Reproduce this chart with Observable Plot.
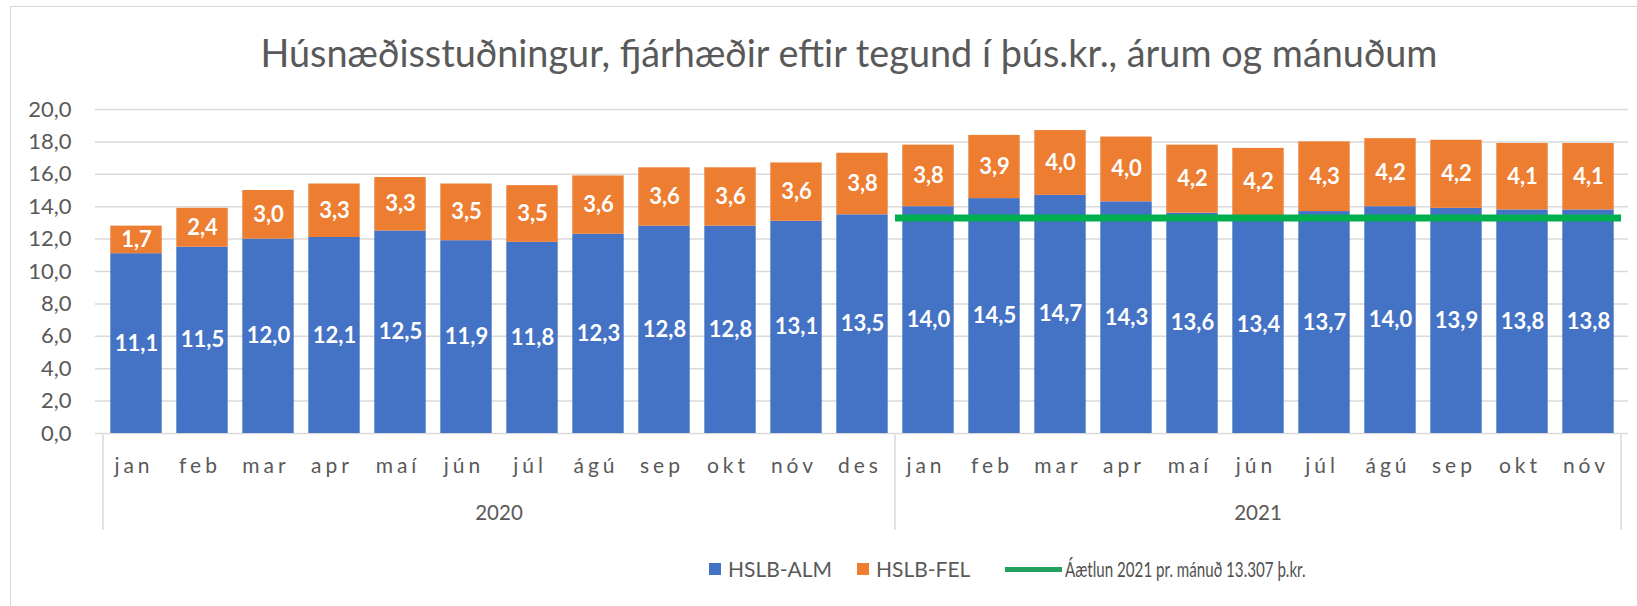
<!DOCTYPE html>
<html>
<head>
<meta charset="utf-8">
<script src="https://cdn.jsdelivr.net/npm/d3@7"></script>
<script src="https://cdn.jsdelivr.net/npm/@observablehq/plot@0.6"></script>
<style>
  body { margin: 0; background: #fff; font-family: Lato, "Open Sans", sans-serif; }
  #wrap { position: relative; width: 1637px; height: 606px; overflow: hidden; background: #fff; }
  #frame { position: absolute; left: 10px; top: 6px; width: 1700px; height: 700px; border: 1.5px solid #d9d9d9; box-sizing: border-box; }
  #title { position: absolute; left: 0; top: 31px; width: 1698px; text-align: center; font-size: 37.8px; line-height: 44px; color: #595959; white-space: nowrap; }
  #chart { position: absolute; left: 0; top: 90px; }
  .leg { position: absolute; top: 556px; height: 26px; line-height: 26px; font-size: 21px; color: #595959; white-space: nowrap; }
  .sw { position: absolute; width: 12px; height: 12px; top: 7px; }
</style>
</head>
<body>
<div id="wrap">
  <div id="frame"></div>
  <div id="title"></div>
  <div id="chart"></div>
  <div id="legend"></div>
</div>
<script>
// ---- data ----
const title = "Húsnæðisstuðningur, fjárhæðir eftir tegund í þús.kr., árum og mánuðum";
const years = ["2020", "2021"];
const months2020 = ["jan","feb","mar","apr","maí","jún","júl","ágú","sep","okt","nóv","des"];
const months2021 = ["jan","feb","mar","apr","maí","jún","júl","ágú","sep","okt","nóv"];
const alm = [11.1,11.5,12.0,12.1,12.5,11.9,11.8,12.3,12.8,12.8,13.1,13.5, 14.0,14.5,14.7,14.3,13.6,13.4,13.7,14.0,13.9,13.8,13.8];
const fel = [1.7,2.4,3.0,3.3,3.3,3.5,3.5,3.6,3.6,3.6,3.6,3.8, 3.8,3.9,4.0,4.0,4.2,4.2,4.3,4.2,4.2,4.1,4.1];
const seriesNames = ["HSLB-ALM", "HSLB-FEL"];
const targetName = "Áætlun 2021 pr. mánuð 13.307 þ.kr.";
const targetValue = 13.307;
const targetYear = "2021";
const yTicks = [0,2,4,6,8,10,12,14,16,18,20];

// ---- build table ----
const monthsByYear = {"2020": months2020, "2021": months2021};
const table = [];
years.forEach(yr => monthsByYear[yr].forEach(m => table.push({year: yr, month: m, key: yr + "-" + m})));
table.forEach((d, i) => { d.alm = alm[i]; d.fel = fel[i]; });
const keys = table.map(d => d.key);
const targetRows = table.filter(d => d.year === targetYear);
const targetLine = [{value: targetValue, from: targetRows[0].key, to: targetRows[targetRows.length - 1].key}];

const fmt = v => d3.format(".1f")(v).replace(".", ",");
const blue = "#4472C4", orange = "#ED7D31", green = "#00B050", grid = "#d9d9d9", ink = "#595959";

document.getElementById("title").textContent = title;

// multi-level category axis (months, box, years), drawn from the x band scale
function categoryAxis(index, scales, values, dims) {
  const x = scales.x, y = scales.y;
  const y0 = y(0);
  const g = d3.create("svg:g").attr("aria-label", "category-axis");
  const bw = x.bandwidth();
  const spacing = 4;
  table.forEach(d => g.append("text")
    .attr("x", x(d.key) + bw / 2 - spacing / 2).attr("y", y0 + 35)
    .attr("text-anchor", "middle").attr("dominant-baseline", "middle")
    .attr("letter-spacing", spacing)
    .attr("fill", ink).attr("font-size", 21).text(d.month));
  const bounds = [];
  years.forEach((yr, i) => {
    const rows = table.filter(d => d.year === yr);
    const xs = x(rows[0].key), xe = x(rows[rows.length - 1].key) + bw;
    bounds.push(xs);
    if (i === years.length - 1) bounds.push(xe);
    g.append("text")
      .attr("x", (xs + xe) / 2).attr("y", y0 + 82)
      .attr("text-anchor", "middle").attr("dominant-baseline", "middle")
      .attr("fill", ink).attr("font-size", 20.5).text(yr);
  });
  bounds.forEach(bx => g.append("line")
    .attr("x1", bx).attr("x2", bx).attr("y1", y0).attr("y2", y0 + 97)
    .attr("stroke", grid).attr("stroke-width", 1.5));
  return g.node();
}

const chart = Plot.plot({
  width: 1637,
  height: 445,
  marginTop: 19,
  marginBottom: 102,
  marginLeft: 95,
  marginRight: 9,
  style: {fontFamily: "Lato, 'Open Sans', sans-serif", background: "transparent"},
  x: {type: "band", domain: keys, padding: 0, axis: null},
  y: {domain: [0, 20], axis: null},
  marks: [
    Plot.ruleY(yTicks, {stroke: grid, strokeWidth: 1.5}),
    Plot.axisY({ticks: yTicks, tickSize: 0, tickPadding: 24, tickFormat: fmt, fontSize: 22, fill: ink, label: null}),
    Plot.barY(table, {x: "key", y1: 0, y2: "alm", fill: blue, insetLeft: 7.3, insetRight: 7.3}),
    Plot.barY(table, {x: "key", y1: "alm", y2: d => d.alm + d.fel, fill: orange, insetLeft: 7.3, insetRight: 7.3}),
    Plot.ruleY(targetLine, {y: "value", x1: "from", x2: "to", stroke: green, strokeWidth: 7}),
    Plot.text(table, {x: "key", y: d => d.alm / 2, text: d => fmt(d.alm), fill: "white", fontWeight: "bold", fontSize: 22}),
    Plot.text(table, {x: "key", y: d => d.alm + d.fel / 2, text: d => fmt(d.fel), fill: "white", fontWeight: "bold", fontSize: 22}),
    categoryAxis
  ]
});
document.getElementById("chart").appendChild(chart);

// legend
const legend = document.getElementById("legend");
const items = [
  {name: seriesNames[0], color: blue, type: "sq", left: 709},
  {name: seriesNames[1], color: orange, type: "sq", left: 857},
  {name: targetName, color: "#22a05c", type: "line", left: 1005}
];
items.forEach(it => {
  const el = document.createElement("div");
  el.className = "leg";
  el.style.left = it.left + "px";
  if (it.type === "sq") {
    el.innerHTML = `<span class="sw" style="left:0;background:${it.color}"></span><span style="margin-left:19px"></span>`;
    el.lastChild.textContent = it.name;
  } else {
    el.innerHTML = `<span style="position:absolute;left:0;top:11px;width:57px;height:5px;background:${it.color}"></span><span style="position:absolute;left:60px;top:0;color:#505050;display:inline-block;transform:scaleX(0.72);transform-origin:0 50%"></span>`;
    el.lastChild.textContent = it.name;
  }
  legend.appendChild(el);
});
</script>
</body>
</html>
